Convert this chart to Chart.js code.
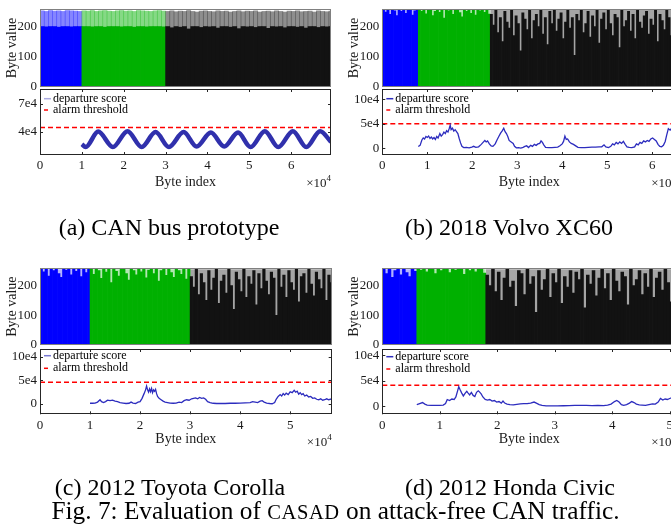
<!DOCTYPE html>
<html>
<head>
<meta charset="utf-8">
<script src="https://cdn.jsdelivr.net/npm/chart.js@4.4.0/dist/chart.umd.min.js"></script>
<style>
html, body { margin: 0; padding: 0; background: #fff; overflow: hidden; }
#fig { position: relative; width: 671px; height: 525px; overflow: hidden; }
canvas { position: absolute; }
.cap { position: absolute; font-family: "Liberation Serif", "Times New Roman", serif; font-size: 24px; line-height: 24px; color: #000; text-align: center; white-space: nowrap; }
.figline { font-size: 25.3px; }
.sc { font-size: 20.5px; letter-spacing: 0.6px; }
</style>
</head>
<body>
<div id="fig">
  <canvas id="aTop" style="left:0;top:0" width="335" height="96"></canvas>
  <canvas id="aBot" style="left:0;top:84px" width="335" height="120"></canvas>
  <canvas id="bTop" style="left:335px;top:0" width="360" height="96"></canvas>
  <canvas id="bBot" style="left:335px;top:84px" width="360" height="120"></canvas>
  <canvas id="cTop" style="left:0;top:260px" width="335" height="96"></canvas>
  <canvas id="cBot" style="left:0;top:344px" width="335" height="120"></canvas>
  <canvas id="dTop" style="left:335px;top:260px" width="360" height="96"></canvas>
  <canvas id="dBot" style="left:335px;top:344px" width="360" height="120"></canvas>

  <div class="cap" style="left:0;width:338px;top:215px">(a) CAN bus prototype</div>
  <div class="cap" style="left:335px;width:348px;top:215px">(b) 2018 Volvo XC60</div>
  <div class="cap" style="left:0;width:340px;top:475px">(c) 2012 Toyota Corolla</div>
  <div class="cap" style="left:335px;width:350px;top:475px">(d) 2012 Honda Civic</div>
  <div class="cap figline" style="left:0;width:671px;top:498px">Fig. 7: Evaluation of <span class="sc">CASAD</span> on attack-free CAN traffic.</div>
</div>

<script>
// ---- data ----
// byte value envelopes, one value per bin of the byte index
var byteCeiling = 255;

var aByteStep = 1000;
var aByteMax = [252,250,253,251,252,250,253,252,251,250,
  252,251,253,250,252,253,251,250,252,253,251,252,250,253,252,251,250,252,253,251,
  250,252,249,251,250,253,250,248,251,252,250,249,252,250,251,248,250,252,249,251,
  250,252,248,250,251,249,252,250,248,251,250,252,249,250,251,248,252,250,249,251];
var aByteDense = [200,199,200,200,198,200,200,199,200,200,
  200,200,199,200,200,198,200,200,200,199,200,200,198,200,200,199,200,200,200,199,
  200,196,200,198,200,192,200,200,197,200,199,200,195,200,200,198,200,193,200,199,
  200,197,200,200,194,200,199,200,196,200,200,198,200,195,200,200,197,200,199,200];

var bByteStep = 500;
var bByteMax = [255,248,255,240,255,252,236,255,250,255,244,255,255,238,252,255,
  255,250,255,242,255,255,236,250,255,247,255,228,255,252,255,240,255,255,246,232,255,250,255,244,255,238,255,252,255,247,255,241,
  240,205,255,180,230,150,250,215,195,255,170,235,210,120,245,225,190,255,160,220,
  240,200,255,175,230,140,250,210,255,185,225,245,160,215,255,195,230,105,240,220,
  255,180,210,250,165,235,200,255,145,225,245,190,255,210,170,240,230,130,255,200,
  220,250,185,240,160,255,215,195,235,250,175,225,205,255,150,240,220,190,255,230,170,245,210];

var cByteStep = 500;
var cByteMax = [255,246,255,232,255,250,255,240,228,255,252,255,236,255,248,255,230,255,244,255,
  255,238,255,250,224,255,245,255,210,255,248,232,255,255,240,218,255,250,236,255,
  246,255,226,252,255,240,255,215,250,255,234,255,244,228,255,250,238,255,222,255,
  230,195,255,170,240,210,150,250,185,225,255,140,215,235,175,255,200,120,245,220,
  180,255,160,230,205,250,135,240,190,255,215,170,245,225,100,255,195,235,160,250,
  210,185,255,145,230,240,175,255,205,165,245,220,190,255,150,235,210];

var dByteStep = 500;
var dByteMax = [255,240,255,228,250,255,236,255,244,230,255,248,
  255,252,255,246,255,255,240,255,250,255,255,244,255,252,255,255,238,255,250,255,246,255,255,242,
  235,200,255,180,245,150,225,255,195,215,130,250,240,170,255,205,230,110,250,185,
  220,255,160,240,210,255,140,230,195,250,175,245,220,255,125,235,205,250,165,225,
  255,190,240,150,255,215,180,245,230,135,255,200,220,250,170,240,195,255,160,225,
  245,185,255,210,145,235,250];

// where the blue / green / black parts of the byte stream change
var aSplits = [10000, 30000];
var bSplits = [8000, 24000];
var cSplits = [10000, 30000];
var dSplits = [6000, 18000];

// departure score [byte index, score]
var aScore = [[10000,27000],[10900,24000],[13900,40500],[17400,24000],[20900,41000],[24300,24000],
  [27600,40000],[30800,24000],[34300,40000],[37400,24500],[40800,39500],[44000,24500],[47300,39500],
  [50300,24000],[53700,41000],[56900,24000],[60400,41000],[63600,24000],[66900,41000],[69500,29500]];
var bScore = [[8000,3500],[8400,6000],[8800,17000],[9100,21000],[9400,19000],[9700,24000],[10000,22000],
  [10300,25000],[10600,20000],[10900,23000],[11200,19000],[11500,22000],[11800,18000],[12100,24000],
  [12400,21000],[12800,30000],[13100,25000],[13400,28000],[13700,33000],[14000,30000],[14300,36000],
  [14600,33000],[14900,41000],[15100,47000],[15300,38000],[15600,41000],[15900,35000],[16200,38000],
  [16500,34000],[16800,30000],[17100,20000],[17400,11000],[17700,4000],[18100,1500],[18700,2000],
  [19300,1000],[19900,2500],[20300,4000],[20800,2000],[21400,3000],[22000,8000],[22400,12000],
  [22800,16000],[23100,13000],[23400,15000],[23800,9000],[24200,5000],[24600,4000],[25100,9000],
  [25500,17000],[25900,24000],[26300,31000],[26700,36000],[27000,41000],[27300,34000],[27600,30000],
  [27900,24000],[28200,16000],[28500,14000],[28800,12000],[29100,10000],[29400,4000],[29800,1000],
  [30300,1500],[30800,500],[31300,2000],[31700,4000],[32100,5000],[32500,1500],[33000,6000],
  [33400,4000],[33800,8000],[34200,6000],[34600,9000],[35000,10000],[35300,15000],[35600,12000],
  [35900,7000],[36300,2000],[37000,1500],[37700,1500],[38400,2000],[39000,2500],[39500,5000],
  [40000,9000],[40300,14000],[40600,25000],[40900,18000],[41200,19000],[41600,13000],[42000,10000],
  [42500,8000],[43000,5000],[43500,2000],[44200,1500],[45000,1500],[45800,2000],[46600,2500],
  [47400,2500],[48200,3000],[48800,3000],[49300,7000],[49700,3000],[50300,1500],[50800,4000],
  [51200,9000],[51600,7000],[52000,12000],[52400,9000],[52800,13000],[53200,10000],[53600,14000],
  [54000,8000],[54400,3000],[54900,2000],[55500,1500],[56100,3000],[56500,9000],[56900,7000],
  [57300,12000],[57700,10000],[58100,15000],[58500,13000],[58900,16000],[59300,14000],[59700,19000],
  [60100,21000],[60500,18000],[60900,15000],[61300,8000],[61700,4000],[62100,3000],[62500,6000],
  [62900,14000],[63200,26000],[63600,40000],[64000,37000],[64400,42000],[65300,44000]];
var cScore = [[10000,1500],[10500,1500],[11000,2000],[11500,4000],[12000,9000],[12300,5000],[12700,3000],
  [13100,5000],[13500,8000],[14000,7000],[14500,8000],[15000,6000],[15500,5000],[16000,3000],
  [16600,2000],[17200,1000],[17800,1500],[18200,4000],[18600,2000],[19100,1000],[19600,4000],
  [20000,5000],[20400,12000],[20800,22000],[21100,30000],[21300,38000],[21500,30000],[21700,25000],
  [21900,32000],[22100,26000],[22300,33000],[22500,24000],[22700,30000],[22900,27000],[23100,31000],
  [23300,22000],[23500,16000],[23800,12000],[24200,9000],[24600,6000],[25000,4000],[25500,3000],
  [26000,2000],[26600,1500],[27200,2000],[27800,4000],[28300,3000],[28800,7000],[29300,9000],
  [29800,8000],[30300,11000],[30700,12000],[31100,13000],[31500,11000],[31900,14000],[32300,12000],
  [32700,13000],[33100,10000],[33500,5000],[34000,3000],[34600,1500],[35300,1000],[36000,1000],
  [37000,1000],[38000,1500],[39000,1500],[40000,2000],[41000,2500],[42000,3000],[42500,5000],
  [43000,4000],[43500,3000],[44000,6000],[44400,7000],[44800,4000],[45300,2000],[45900,1000],
  [46400,500],[46900,3000],[47200,10000],[47600,16000],[48000,20000],[48300,17000],[48600,22000],
  [48900,19000],[49200,23000],[49600,20000],[50000,26000],[50400,24000],[50800,29000],[51100,25000],
  [51400,27000],[51700,21000],[52000,24000],[52300,20000],[52600,22000],[52900,17000],[53300,19000],
  [53700,15000],[54100,16000],[54500,12000],[54900,13000],[55300,10000],[55700,9000],[56100,11000],
  [56500,8000],[56900,9000],[57300,11000],[57700,9000],[58300,11000]];
var dScore = [[6000,3000],[6500,5000],[7000,7000],[7400,4000],[7800,2000],[8500,1500],[9200,1500],
  [10000,1500],[10600,2000],[11000,5000],[11300,13000],[11700,11000],[12100,14000],[12500,13000],
  [12800,18000],[13100,30000],[13300,38000],[13500,33000],[13800,26000],[14100,20000],[14400,25000],
  [14700,29000],[14900,26000],[15200,22000],[15500,27000],[15800,21000],[16100,19000],[16400,27000],
  [16700,30000],[16900,28000],[17200,24000],[17500,18000],[17900,13000],[18300,12000],[18700,13000],
  [19100,10000],[19500,11000],[19900,8000],[20300,9000],[20700,6000],[21000,10000],[21300,6000],
  [21700,4000],[22200,3000],[22800,2500],[23400,3500],[24000,4500],[24600,5000],[25200,5000],
  [25800,6000],[26400,8000],[26800,6000],[27300,3000],[27800,1500],[28500,500],[29500,500],
  [30500,500],[31500,800],[32500,1000],[33500,1500],[34500,1500],[35500,1500],[36500,1000],
  [37500,1500],[38500,1000],[39200,2000],[39800,4000],[40400,9000],[40800,11000],[41200,8000],
  [41600,3000],[42000,1500],[42500,3000],[43000,6000],[43400,9000],[43800,7000],[44200,4000],
  [44700,2500],[45200,2000],[45800,1500],[46400,3000],[47000,4500],[47500,4000],[48000,8000],
  [48400,15000],[48800,12000],[49200,14000],[49600,13000],[50000,15000],[50500,17000],[51200,18000]];

// alarm thresholds
var aThreshold = 45000;
var bThreshold = 50000;
var cThreshold = 46000;
var dThreshold = 41000;

// tick values
var byteTicks = [0, 100, 200];
var aScoreTicks = [40000, 70000];
var bcdScoreTicks = [0, 50000, 100000];
var abIndexTicks = [0, 10000, 20000, 30000, 40000, 50000, 60000];
var cdIndexTicks = [0, 10000, 20000, 30000, 40000, 50000];

// ---- drawing ----
var serif = '"Liberation Serif", "Times New Roman", serif';
var tickFont = { family: serif, size: 13 };
var titleFont = { family: serif, size: 14 };
var ink = '#1a1a1a';

function segColor(x, splits, alpha) {
  var c = x < splits[0] ? [0, 0, 255] : (x < splits[1] ? [0, 176, 0] : [18, 18, 18]);
  return 'rgba(' + c[0] + ',' + c[1] + ',' + c[2] + ',' + alpha + ')';
}

function binned(values, step) {
  return values.map(function(v, i) { return { x: i * step + step / 2, y: v }; });
}

function fixWidth(w) {
  return function(s) { s.width = w; s.paddingTop = 0; s.paddingBottom = 0; s.paddingLeft = 0; s.paddingRight = 0; };
}
function fixHeight(h) {
  return function(s) { s.height = h; s.paddingTop = 0; s.paddingBottom = 0; s.paddingLeft = 0; s.paddingRight = 0; };
}
function useTicks(list) {
  return function(s) { s.ticks = list.map(function(v) { return { value: v }; }); };
}

Chart.register({
  id: 'matlabAxes',
  afterDraw: function(chart, args, opts) {
    var a = chart.chartArea, ctx = chart.ctx;
    function seg(x1, y1, x2, y2) { ctx.beginPath(); ctx.moveTo(x1, y1); ctx.lineTo(x2, y2); ctx.stroke(); }
    ctx.save();
    ctx.lineWidth = 1;
    ctx.strokeStyle = opts.frameColor || '#222';
    if (opts.inTicks) {
      var xs = chart.scales.x, ys = chart.scales.y;
      xs.ticks.forEach(function(t) {
        var px = Math.round(xs.getPixelForValue(t.value)) + 0.5;
        seg(px, a.bottom, px, a.bottom - 3);
        seg(px, a.top, px, a.top + 3);
      });
      ys.ticks.forEach(function(t) {
        var py = Math.round(ys.getPixelForValue(t.value)) + 0.5;
        seg(a.left, py, a.left + 3, py);
        seg(a.right, py, a.right - 3, py);
      });
    }
    ctx.strokeRect(Math.round(a.left) + 0.5, Math.round(a.top) + 0.5,
                   Math.round(a.right - a.left) - 1, Math.round(a.bottom - a.top) - 1);

    if (opts.legendRows) {
      ctx.font = '12px ' + serif;
      ctx.textBaseline = 'middle';
      ctx.textAlign = 'left';
      chart.data.datasets.forEach(function(d, i) {
        if (!d.label) return;
        var y = a.top + opts.legendRows[i];
        ctx.strokeStyle = d.legendColor || d.borderColor;
        ctx.lineWidth = 1.5;
        seg(a.left + 4, y, a.left + 4 + (d.legendLen || 7), y);
        ctx.fillStyle = '#000';
        ctx.fillText(d.label, a.left + 13, y);
      });
    }

    if (opts.exponent) {
      ctx.fillStyle = ink;
      ctx.textAlign = 'left';
      ctx.textBaseline = 'alphabetic';
      ctx.font = '9px ' + serif;
      var wSup = ctx.measureText('4').width;
      ctx.font = '13px ' + serif;
      var wMain = ctx.measureText('\u00d710').width;
      var x0 = a.right - wSup - wMain, yb = a.bottom + 32;
      ctx.fillText('\u00d710', x0, yb);
      ctx.font = '9px ' + serif;
      ctx.fillText('4', x0 + wMain, yb - 6);
    }
    ctx.restore();
  }
});

function bytesChart(id, p) {
  var sets = p.layers.map(function(vals, k) {
    return {
      data: binned(vals, p.step),
      backgroundColor: function(c) { return segColor(c.raw ? c.raw.x : 0, p.splits, p.alphas[k]); },
      borderWidth: 0,
      barPercentage: 1,
      categoryPercentage: 1,
      grouped: false,
      order: p.layers.length - k
    };
  });
  if (p.ceilingAlpha) {
    // sparse traces reaching the byte ceiling, one soft band per part of the stream
    var edges = [0, p.splits[0], p.splits[1], p.xMax];
    for (var k = 0; k < 3; k++) {
      sets.push({
        type: 'line',
        data: [{ x: edges[k], y: byteCeiling }, { x: edges[k + 1], y: byteCeiling }],
        fill: 'origin',
        backgroundColor: segColor(edges[k], p.splits, p.ceilingAlpha[k]),
        borderWidth: 0,
        pointRadius: 0,
        order: 20
      });
    }
  }
  return new Chart(document.getElementById(id), {
    type: 'bar',
    data: { datasets: sets },
    options: {
      responsive: false,
      animation: false,
      events: [],
      layout: { padding: p.pad },
      plugins: { legend: { display: false }, tooltip: { enabled: false }, matlabAxes: { frameColor: '#808080' } },
      scales: {
        x: { type: 'linear', min: 0, max: p.xMax, offset: false, display: false },
        y: {
          min: 0, max: 258,
          afterFit: fixWidth(p.yW),
          afterBuildTicks: useTicks(byteTicks),
          grid: { display: false, drawTicks: false },
          border: { display: false },
          ticks: { font: tickFont, color: ink, padding: 3, autoSkip: false },
          title: { display: true, text: 'Byte value', font: titleFont, color: ink, padding: { top: p.titlePad, bottom: 0 } }
        }
      }
    }
  });
}

function scoreChart(id, p) {
  return new Chart(document.getElementById(id), {
    type: 'line',
    data: {
      datasets: [
        {
          label: 'departure score',
          data: p.score.map(function(q) { return { x: q[0], y: q[1] }; }),
          borderColor: p.lineColor,
          legendColor: p.legendColor,
          borderWidth: p.lineWidth,
          pointRadius: 0,
          tension: 0,
          cubicInterpolationMode: p.smooth ? 'monotone' : 'default'
        },
        {
          label: 'alarm threshold',
          data: [{ x: 0, y: p.threshold }, { x: p.xMax, y: p.threshold }],
          borderColor: '#ff0000',
          legendLen: 4,
          borderWidth: 1.5,
          borderDash: [5, 3],
          pointRadius: 0
        }
      ]
    },
    options: {
      responsive: false,
      animation: false,
      events: [],
      layout: { padding: p.pad },
      plugins: {
        legend: { display: false },
        tooltip: { enabled: false },
        matlabAxes: { frameColor: '#262626', inTicks: true, legendRows: p.legendRows, exponent: true }
      },
      scales: {
        x: {
          type: 'linear', min: 0, max: p.xMax, offset: false,
          afterFit: fixHeight(p.xH),
          afterBuildTicks: useTicks(p.xTicks),
          grid: { display: false, drawTicks: false },
          border: { display: false },
          ticks: { font: tickFont, color: ink, padding: 3, maxRotation: 0, autoSkip: false,
                   callback: function(v) { return String(v / 10000); } },
          title: { display: true, text: 'Byte index', font: titleFont, color: ink, padding: { top: 0, bottom: 4 } }
        },
        y: {
          min: p.yMin, max: p.yMax,
          afterFit: fixWidth(p.yW),
          afterBuildTicks: useTicks(p.yTicks),
          grid: { display: false, drawTicks: false },
          border: { display: false },
          ticks: { font: tickFont, color: ink, padding: 3, autoSkip: false,
                   callback: function(v) { return v === 0 ? '0' : (v / 10000) + 'e4'; } }
        }
      }
    }
  });
}

var softCeiling = [0.3, 0.3, 0.38];

// (a) CAN bus prototype
bytesChart('aTop', { layers: [aByteMax, aByteDense], alphas: [0.48, 1], step: aByteStep, splits: aSplits,
  xMax: 69500, yW: 40, titlePad: 3.6, pad: { left: 0, top: 9, right: 4, bottom: 9 } });
scoreChart('aBot', { score: aScore, threshold: aThreshold, xMax: 69500, yMin: 15500, yMax: 86000,
  yTicks: aScoreTicks, xTicks: abIndexTicks, yW: 40, xH: 39.4, smooth: true,
  lineColor: 'rgb(48,48,172)', legendColor: 'rgb(172,172,226)', lineWidth: 4.5,
  legendRows: [9.7, 21], pad: { left: 0, top: 5, right: 4, bottom: 9.6 } });

// (b) 2018 Volvo XC60
bytesChart('bTop', { layers: [bByteMax], alphas: [1], ceilingAlpha: softCeiling, step: bByteStep, splits: bSplits,
  xMax: 65300, yW: 47.3, titlePad: 10.6, pad: { left: 0, top: 9, right: 19, bottom: 9 } });
scoreChart('bBot', { score: bScore, threshold: bThreshold, xMax: 65300, yMin: -13700, yMax: 121000,
  yTicks: bcdScoreTicks, xTicks: abIndexTicks, yW: 47.3, xH: 39.4, smooth: false,
  lineColor: 'rgb(44,44,190)', legendColor: 'rgb(44,44,190)', lineWidth: 1.3,
  legendRows: [9.7, 21], pad: { left: 0, top: 5, right: 19, bottom: 9.6 } });

// (c) 2012 Toyota Corolla
bytesChart('cTop', { layers: [cByteMax], alphas: [1], ceilingAlpha: softCeiling, step: cByteStep, splits: cSplits,
  xMax: 58300, yW: 40, titlePad: 3.6, pad: { left: 0, top: 8.3, right: 3.3, bottom: 11 } });
scoreChart('cBot', { score: cScore, threshold: cThreshold, xMax: 58300, yMin: -22000, yMax: 117000,
  yTicks: bcdScoreTicks, xTicks: cdIndexTicks, yW: 40, xH: 37.4, smooth: false,
  lineColor: 'rgb(44,44,190)', legendColor: 'rgb(120,120,210)', lineWidth: 1.3,
  legendRows: [6.7, 19.3], pad: { left: 0, top: 5, right: 3.3, bottom: 12.3 } });

// (d) 2012 Honda Civic
bytesChart('dTop', { layers: [dByteMax], alphas: [1], ceilingAlpha: softCeiling, step: dByteStep, splits: dSplits,
  xMax: 51100, yW: 47.3, titlePad: 10.6, pad: { left: 0, top: 8.3, right: 19, bottom: 11 } });
scoreChart('dBot', { score: dScore, threshold: dThreshold, xMax: 51100, yMin: -16000, yMax: 112000,
  yTicks: bcdScoreTicks, xTicks: cdIndexTicks, yW: 47.3, xH: 37.4, smooth: false,
  lineColor: 'rgb(44,44,190)', legendColor: 'rgb(44,44,190)', lineWidth: 1.3,
  legendRows: [7.7, 20], pad: { left: 0, top: 5, right: 19, bottom: 12.3 } });
</script>
</body>
</html>
